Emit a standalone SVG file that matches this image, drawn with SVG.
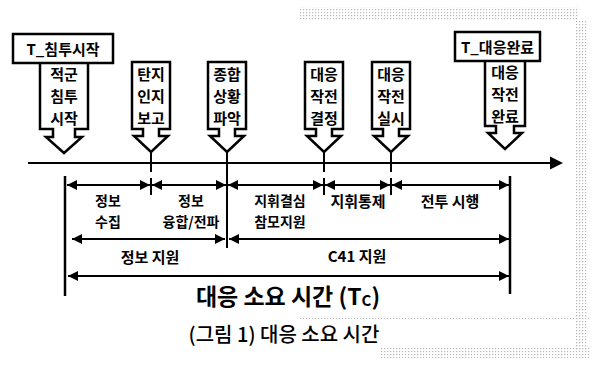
<svg xmlns="http://www.w3.org/2000/svg" width="599" height="365" viewBox="0 0 599 365">
<style>
.t{font-family:"Noto Sans CJK KR","Noto Sans",sans-serif;font-weight:bold;fill:#000;text-anchor:middle;dominant-baseline:central}
.n{font-family:"Noto Sans CJK KR","Noto Sans",sans-serif;font-weight:500;fill:#000;text-anchor:middle;dominant-baseline:central}
.box{fill:#fff;stroke:#000;stroke-width:2.5}
.ln{stroke:#000;stroke-width:2;fill:none}
.vl{stroke:#000;stroke-width:2.5;fill:none}
.ah{fill:#000}
.ev{font-size:15px}
.sg{font-size:14px}
</style>
<defs>
<pattern id="dots" width="3" height="3" patternUnits="userSpaceOnUse">
<rect x="0" y="0" width="1.2" height="1.2" fill="#9a9a9a"/>
</pattern>
<marker id="aE" viewBox="0 0 10 10" refX="10" refY="5" markerWidth="10" markerHeight="10" markerUnits="userSpaceOnUse" orient="auto"><path d="M0,0 L10,5 L0,10 Z" fill="#000"/></marker>
<marker id="aS" viewBox="0 0 10 10" refX="0" refY="5" markerWidth="10" markerHeight="10" markerUnits="userSpaceOnUse" orient="auto"><path d="M10,0 L0,5 L10,10 Z" fill="#000"/></marker>
</defs>
<rect width="599" height="365" fill="#fff"/>
<!-- scanned frame remnants -->
<g id="frame" opacity="0.7">
<rect x="300" y="7" width="278" height="14" fill="url(#dots)"/>
<rect x="575" y="20" width="13" height="330" fill="url(#dots)"/>
<rect x="300" y="316" width="290" height="3" fill="url(#dots)"/>
<rect x="380" y="346" width="210" height="12" fill="url(#dots)"/>
</g>
<!-- connectors -->
<g id="connectors">
<line class="ln" x1="28" y1="163" x2="552" y2="163"/>
<path class="ah" d="M550,156.5 L563,163 L550,169.5 Z"/>
<line class="ln" x1="151" y1="153" x2="151" y2="172"/>
<line class="ln" x1="227" y1="153" x2="227" y2="248"/>
<line class="ln" x1="324" y1="153" x2="324" y2="172"/>
<line class="ln" x1="391" y1="153" x2="391" y2="172"/>
<line class="ln" x1="151" y1="178" x2="151" y2="195"/>
<line class="ln" x1="324" y1="178" x2="324" y2="195"/>
<line class="ln" x1="391" y1="178" x2="391" y2="195"/>
<line class="vl" x1="65" y1="176" x2="65" y2="296"/>
<line class="vl" x1="510" y1="176" x2="510" y2="294"/>
<line class="ln" x1="67" y1="185" x2="150" y2="185" marker-start="url(#aS)" marker-end="url(#aE)"/>
<line class="ln" x1="152" y1="185" x2="226" y2="185" marker-start="url(#aS)" marker-end="url(#aE)"/>
<line class="ln" x1="228" y1="185" x2="323" y2="185" marker-start="url(#aS)" marker-end="url(#aE)"/>
<line class="ln" x1="325" y1="185" x2="390" y2="185" marker-start="url(#aS)" marker-end="url(#aE)"/>
<line class="ln" x1="392" y1="185" x2="509" y2="185" marker-start="url(#aS)" marker-end="url(#aE)"/>
<line class="ln" x1="72" y1="239" x2="225" y2="239" marker-start="url(#aS)" marker-end="url(#aE)"/>
<line class="ln" x1="229" y1="239" x2="509" y2="239" marker-start="url(#aS)" marker-end="url(#aE)"/>
<line class="ln" x1="68" y1="276" x2="509" y2="276" marker-start="url(#aS)" marker-end="url(#aE)"/>
</g>
<!-- event arrows -->
<g id="ev1">
<path class="box" d="M40,58 H88 V129 H75 V137 H82 L64,153 L46,137 H53 V129 H40 Z"/>
<text class="t ev" x="64" y="73">적군</text>
<text class="t ev" x="64" y="95">침투</text>
<text class="t ev" x="64" y="117">시작</text>
</g>
<g id="tstart">
<rect class="box" x="13" y="34" width="100" height="29"/>
<text class="t" x="63" y="48.5" font-size="15">T_침투시작</text>
</g>
<g id="ev2">
<path class="box" d="M132,62 H170 V129 H159 V136 H168 L151,152 L134,136 H143 V129 H132 Z"/>
<text class="t ev" x="151" y="73">탄지</text>
<text class="t ev" x="151" y="95">인지</text>
<text class="t ev" x="151" y="117">보고</text>
</g>
<g id="ev3">
<path class="box" d="M208,62 H246 V129 H235 V136 H244 L227,152 L210,136 H219 V129 H208 Z"/>
<text class="t ev" x="227" y="73">종합</text>
<text class="t ev" x="227" y="95">상황</text>
<text class="t ev" x="227" y="117">파악</text>
</g>
<g id="ev4">
<path class="box" d="M305,62 H343 V129 H332 V136 H341 L324,152 L307,136 H316 V129 H305 Z"/>
<text class="t ev" x="324" y="73">대응</text>
<text class="t ev" x="324" y="95">작전</text>
<text class="t ev" x="324" y="117">결정</text>
</g>
<g id="ev5">
<path class="box" d="M372,62 H410 V129 H399 V136 H408 L391,152 L374,136 H383 V129 H372 Z"/>
<text class="t ev" x="391" y="73">대응</text>
<text class="t ev" x="391" y="95">작전</text>
<text class="t ev" x="391" y="117">실시</text>
</g>
<g id="ev6">
<path class="box" d="M485,56 H525 V126 H514 V133 H522 L505,149 L488,133 H496 V126 H485 Z"/>
<text class="t ev" x="505" y="71">대응</text>
<text class="t ev" x="505" y="93">작전</text>
<text class="t ev" x="505" y="115">완료</text>
</g>
<g id="tend">
<rect class="box" x="455" y="32" width="85" height="29"/>
<text class="t" x="497.5" y="46.5" font-size="15">T_대응완료</text>
</g>
<!-- segment labels -->
<g id="lbl1"><text class="t sg" x="108" y="200">정보</text><text class="t sg" x="108" y="221">수집</text></g>
<g id="lbl2"><text class="t sg" x="191" y="200">정보</text><text class="t sg" x="191" y="221">융합/전파</text></g>
<g id="lbl3"><text class="t sg" x="280" y="200">지휘결심</text><text class="t sg" x="280" y="221">참모지원</text></g>
<g id="lbl4"><text class="t" x="358" y="200" font-size="15">지휘통제</text></g>
<g id="lbl5"><text class="t" x="450" y="200" font-size="15">전투 시행</text></g>
<g id="lbl6"><text class="t" x="150" y="256" font-size="15">정보 지원</text></g>
<g id="lbl7"><text class="t" x="357" y="255" font-size="15">C41 지원</text></g>
<g id="lbl8"><text class="t" x="288" y="295" font-size="23">대응 소요 시간 (T<tspan font-size="15" dy="4">C</tspan><tspan dy="-4">)</tspan></text></g>
<g id="caption"><text class="n" x="284" y="333" font-size="20">(그림 1) 대응 소요 시간</text></g>
</svg>
